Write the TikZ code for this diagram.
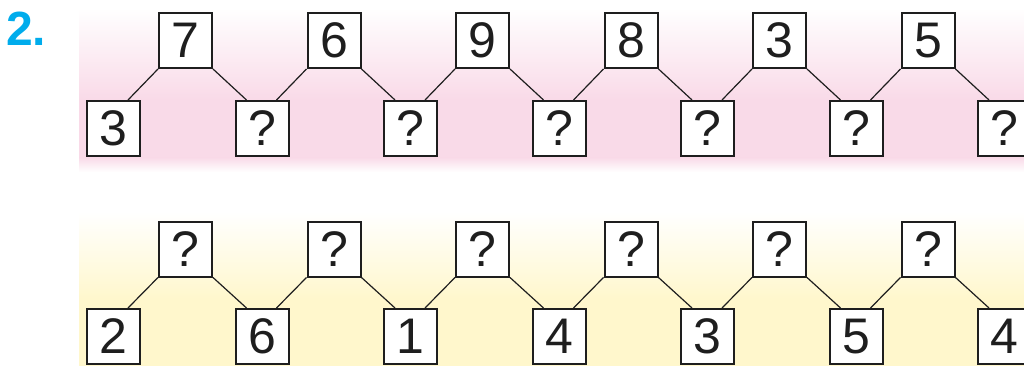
\documentclass[tikz,border=0pt]{standalone}
\usepackage{fontspec}
\setmainfont{Liberation Sans}
\usetikzlibrary{calc}
\definecolor{pinkbg}{RGB}{249,218,232}
\definecolor{yellowbg}{RGB}{255,247,204}
\definecolor{numcyan}{RGB}{0,172,236}
\definecolor{ink}{RGB}{30,30,30}
\newcommand{\dg}[1]{\raisebox{-1.5pt}{#1}}
\tikzset{
  numbox/.style={draw=ink, line width=2pt, fill=white, minimum width=53pt, minimum height=55pt, inner sep=0pt, font=\fontsize{50}{50}\selectfont, text=ink},
  link/.style={draw=ink, line width=1.2pt}
}
\begin{document}
\begin{tikzpicture}[x=1pt,y=-1pt]
\useasboundingbox (0,0) rectangle (1024,366);
\clip (0,0) rectangle (1024,366);
% backgrounds
\shade[top color=white, bottom color=pinkbg] (79,8) rectangle (1024,100);
\fill[pinkbg] (79,99.5) rectangle (1024,158);
\shade[top color=pinkbg, bottom color=white] (79,157.5) rectangle (1024,172);
\shade[top color=white, bottom color=yellowbg] (79,212) rectangle (1024,300);
\fill[yellowbg] (79,299.5) rectangle (1024,366);
% label
\node[anchor=base west, inner sep=0pt, text=numcyan, font=\fontsize{48}{48}\selectfont\bfseries] (lbl) at (6,46) {2.};
% row 1
\foreach \v [count=\k] in {7,6,9,8,3,5}
  \node[numbox] (t\k) at ({185.5+148.5*(\k-1)},40.5) {\dg{\v}};
\foreach \v [count=\k] in {3,?,?,?,?,?,?}
  \node[numbox] (b\k) at ({113.5+148.5*(\k-1)},128.5) {\dg{\v}};
% row 2
\foreach \v [count=\k] in {?,?,?,?,?,?}
  \node[numbox] (u\k) at ({185.5+148.5*(\k-1)},249) {\dg{\v}};
\foreach \v [count=\k] in {2,6,1,4,3,5,4}
  \node[numbox] (c\k) at ({113.5+148.5*(\k-1)},336.5) {\dg{\v}};
% connectors
\foreach \k [evaluate=\k as \n using int(\k+1)] in {1,...,6} {
  \draw[link] (t\k.south west) -- ($(b\k.north east)+(-13,0)$);
  \draw[link] (t\k.south east) -- ($(b\n.north west)+(12,0)$);
  \draw[link] (u\k.south west) -- ($(c\k.north east)+(-13,0)$);
  \draw[link] (u\k.south east) -- ($(c\n.north west)+(12,0)$);
}
\end{tikzpicture}
\end{document}
